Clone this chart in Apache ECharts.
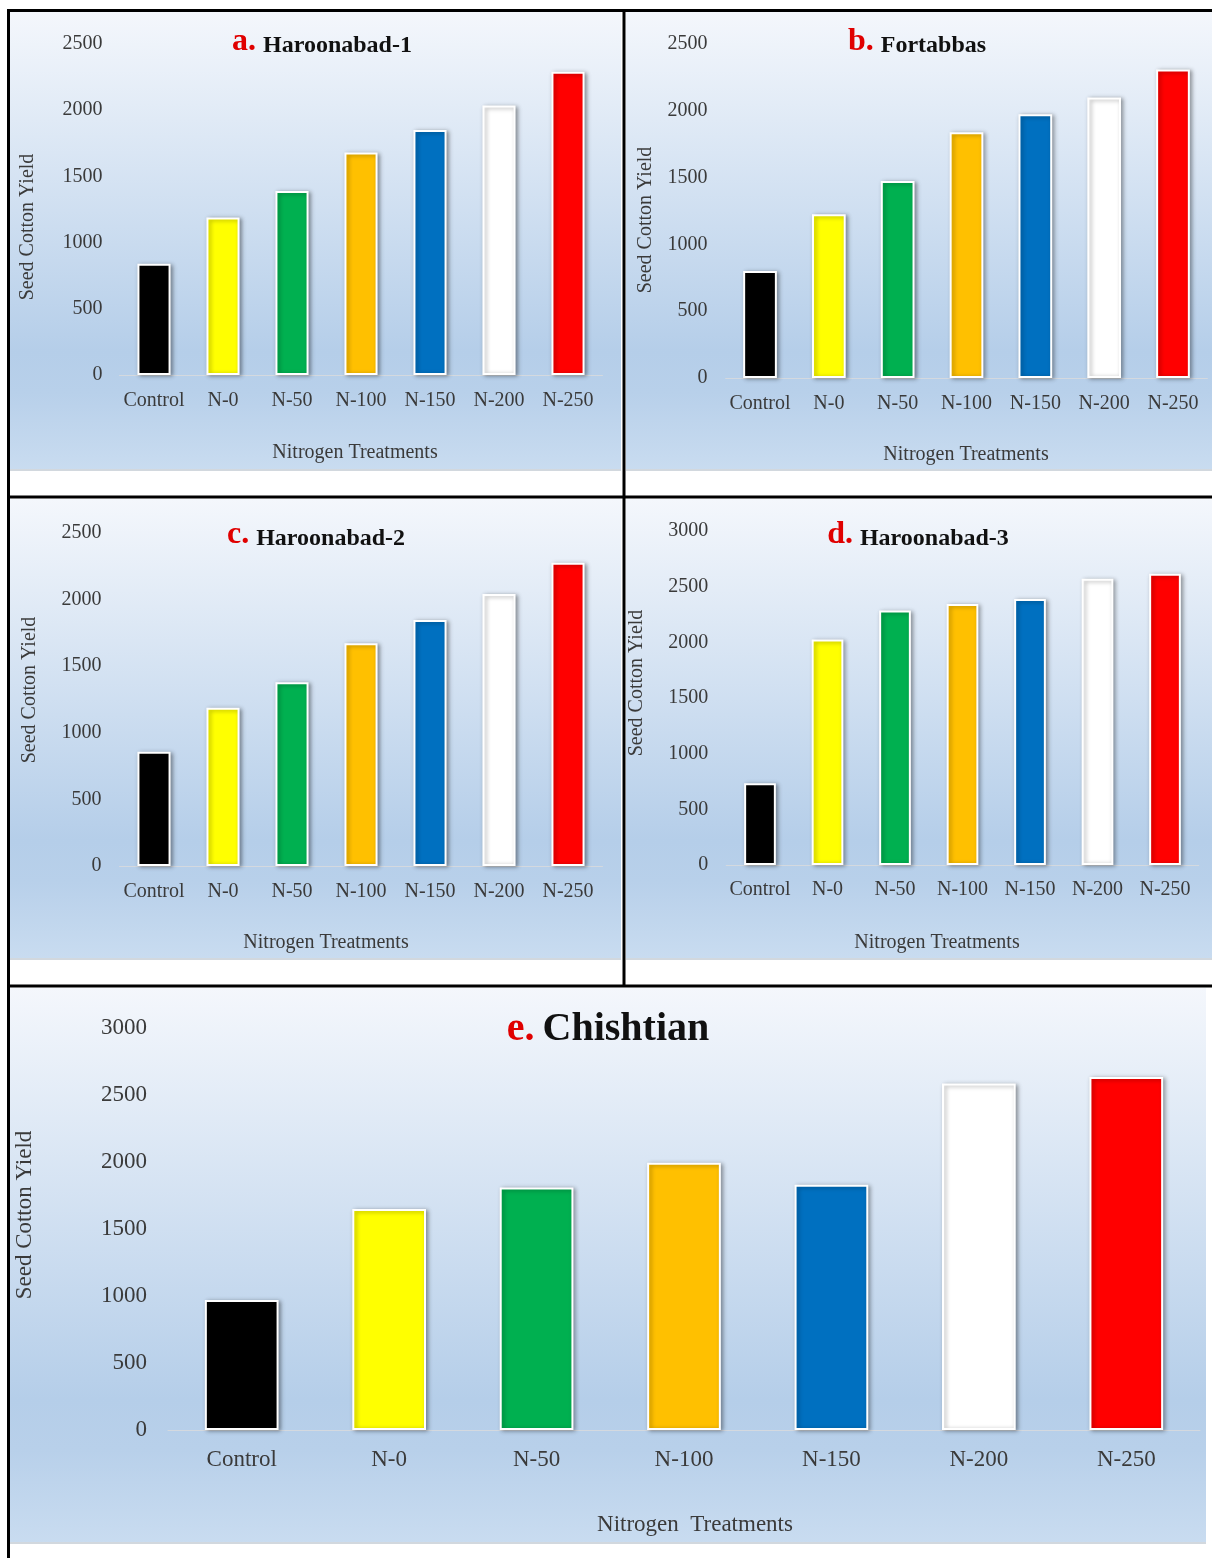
<!DOCTYPE html>
<html>
<head>
<meta charset="utf-8">
<title>Seed Cotton Yield under Nitrogen Treatments</title>
<script src="https://cdn.jsdelivr.net/npm/echarts@6/dist/echarts.min.js"></script>
<style>
  html, body { margin: 0; padding: 0; background: #ffffff; }
  #chart { width: 1212px; height: 1558px; }
</style>
</head>
<body>
<div id="chart"></div>
<script>
// Treatments shared by every site
const categories = ['Control', 'N-0', 'N-50', 'N-100', 'N-150', 'N-200', 'N-250'];

// Seed cotton yield per site
const haroonabad1 = [840, 1190, 1390, 1680, 1850, 2035, 2290];
const fortabbas   = [800, 1225, 1475, 1840, 1975, 2100, 2310];
const haroonabad2 = [858, 1188, 1380, 1672, 1847, 2042, 2277];
const haroonabad3 = [735, 2025, 2285, 2345, 2390, 2570, 2615];
const chishtian   = [970, 1650, 1810, 1995, 1830, 2585, 2635];

// One fill colour per treatment
const barColors = ['#000000', '#FFFF00', '#00B050', '#FFC000', '#0070C0', '#FFFFFF', '#FF0000'];

const serif = '"Liberation Serif", "Times New Roman", serif';

// Panel layout (pixels on the 1212 x 1558 page)
const panels = [
  { letter: 'a.', site: 'Haroonabad-1', data: haroonabad1, max: 2500,
    grid: { left: 119.5, top: 44, width: 483, height: 331 }, bg: [10, 12, 611, 459],
    titlePos: [322, 42], yTitlePos: [28, 227], xTitlePos: [355, 453],
    font: 20, letterSize: 32, siteSize: 24, gap: 7, yMargin: 17, xMargin: 16, barWidth: '48%' },
  { letter: 'b.', site: 'Fortabbas', data: fortabbas, max: 2500,
    grid: { left: 725.6, top: 44, width: 481.8, height: 334 }, bg: [626, 12, 586, 459],
    titlePos: [917, 42], yTitlePos: [646, 220], xTitlePos: [966, 455],
    font: 20, letterSize: 32, siteSize: 24, gap: 7, yMargin: 18, xMargin: 16, barWidth: '49%' },
  { letter: 'c.', site: 'Haroonabad-2', data: haroonabad2, max: 2500,
    grid: { left: 119.5, top: 533, width: 483, height: 333 }, bg: [10, 499, 611, 461],
    titlePos: [316, 535], yTitlePos: [30, 690], xTitlePos: [326, 943],
    font: 20, letterSize: 32, siteSize: 24, gap: 7, yMargin: 18, xMargin: 16, barWidth: '48%' },
  { letter: 'd.', site: 'Haroonabad-3', data: haroonabad3, max: 3000,
    grid: { left: 726.25, top: 531, width: 472.5, height: 334 }, bg: [626, 499, 586, 461],
    titlePos: [918, 535], yTitlePos: [637, 683], xTitlePos: [937, 943],
    font: 20, letterSize: 32, siteSize: 24, gap: 7, yMargin: 18, xMargin: 15, barWidth: '47%' },
  { letter: 'e.', site: 'Chishtian', data: chishtian, max: 3000,
    grid: { left: 168, top: 1028, width: 1032, height: 402 }, bg: [10, 988, 1196, 556],
    titlePos: [608, 1030], yTitlePos: [25, 1215], xTitlePos: [695, 1525],
    font: 23, letterSize: 40, siteSize: 40, gap: 8, yMargin: 21, xMargin: 18, barWidth: '50%' }
];

function panelFill() {
  return new echarts.graphic.LinearGradient(0, 0, 0, 1, [
    { offset: 0, color: '#f4f7fc' },
    { offset: 0.74, color: '#b5cee9' },
    { offset: 0.83, color: '#b8d0ea' },
    { offset: 1, color: '#c9dcf0' }
  ]);
}

const grids = [], xAxes = [], yAxes = [], series = [], graphics = [];

panels.forEach((p, i) => {
  grids.push(Object.assign({ containLabel: false }, p.grid));

  xAxes.push({
    type: 'category', gridIndex: i, data: categories,
    axisLine: { show: true, lineStyle: { color: '#d4d9df', width: 1 } },
    axisTick: { show: false },
    axisLabel: { color: '#3a3a3a', fontFamily: serif, fontSize: p.font, margin: p.xMargin, interval: 0 },
    splitLine: { show: false }
  });

  yAxes.push({
    type: 'value', gridIndex: i, min: 0, max: p.max, interval: 500,
    axisLine: { show: false }, axisTick: { show: false },
    axisLabel: {
      color: '#3a3a3a', fontFamily: serif, fontSize: p.font, margin: p.yMargin,
      formatter: v => String(v)
    },
    splitLine: { show: false }
  });

  series.push({
    type: 'bar', xAxisIndex: i, yAxisIndex: i, barWidth: p.barWidth,
    data: p.data.map((v, k) => ({
      value: v,
      itemStyle: { color: barColors[k] }
    })),
    itemStyle: {
      borderColor: '#ffffff', borderWidth: 2,
      shadowColor: 'rgba(0,0,0,0.35)', shadowBlur: 4, shadowOffsetX: 2, shadowOffsetY: 1
    },
    silent: true
  });

  // panel background with its soft bottom edge
  graphics.push({
    type: 'rect', z: -10, silent: true,
    shape: { x: p.bg[0], y: p.bg[1], width: p.bg[2], height: p.bg[3] },
    style: { fill: panelFill() }
  });
  graphics.push({
    type: 'rect', z: -9, silent: true,
    shape: { x: p.bg[0], y: p.bg[1] + p.bg[3] - 2, width: p.bg[2], height: 2 },
    style: { fill: '#d2d8de' }
  });

  // panel heading: red letter followed by the site name
  graphics.push({
    type: 'text', z: 50, silent: true, x: p.titlePos[0], y: p.titlePos[1],
    style: {
      text: '{l|' + p.letter + '}{t|' + p.site + '}',
      align: 'center', verticalAlign: 'middle',
      textAlign: 'center', textVerticalAlign: 'middle',
      fontFamily: serif,
      rich: {
        l: { fontFamily: serif, fontSize: p.letterSize, fontWeight: 'bold', fill: '#e00000', color: '#e00000',
             verticalAlign: 'bottom', padding: [0, p.gap, 0, 0] },
        t: { fontFamily: serif, fontSize: p.siteSize, fontWeight: 'bold', fill: '#111111', color: '#111111',
             verticalAlign: 'bottom' }
      }
    }
  });

  // y-axis title
  graphics.push({
    type: 'text', z: 50, silent: true, x: p.yTitlePos[0], y: p.yTitlePos[1], rotation: Math.PI / 2,
    style: {
      text: 'Seed Cotton Yield', fill: '#3a3a3a', fontFamily: serif, fontSize: p.font,
      align: 'center', verticalAlign: 'middle', textAlign: 'center', textVerticalAlign: 'middle'
    }
  });

  // x-axis title
  graphics.push({
    type: 'text', z: 50, silent: true, x: p.xTitlePos[0], y: p.xTitlePos[1],
    style: {
      text: i === 4 ? 'Nitrogen  Treatments' : 'Nitrogen Treatments',
      fill: '#3a3a3a', fontFamily: serif, fontSize: p.font,
      align: 'center', verticalAlign: 'middle', textAlign: 'center', textVerticalAlign: 'middle'
    }
  });
});

// black frame lines separating the panels
const frameLines = [
  [8.5, 9, 8.5, 1558],
  [7, 10.5, 1212, 10.5],
  [624, 10, 624, 986],
  [7, 497, 1212, 497],
  [7, 986, 1212, 986]
];
frameLines.forEach(l => {
  graphics.push({
    type: 'line', z: 100, silent: true,
    shape: { x1: l[0], y1: l[1], x2: l[2], y2: l[3] },
    style: { stroke: '#000000', lineWidth: 3 }
  });
});

const chart = echarts.init(document.getElementById('chart'), null, { renderer: 'canvas' });
chart.setOption({
  backgroundColor: '#ffffff',
  animation: false,
  grid: grids,
  xAxis: xAxes,
  yAxis: yAxes,
  series: series,
  graphic: { elements: graphics }
});
</script>
</body>
</html>
